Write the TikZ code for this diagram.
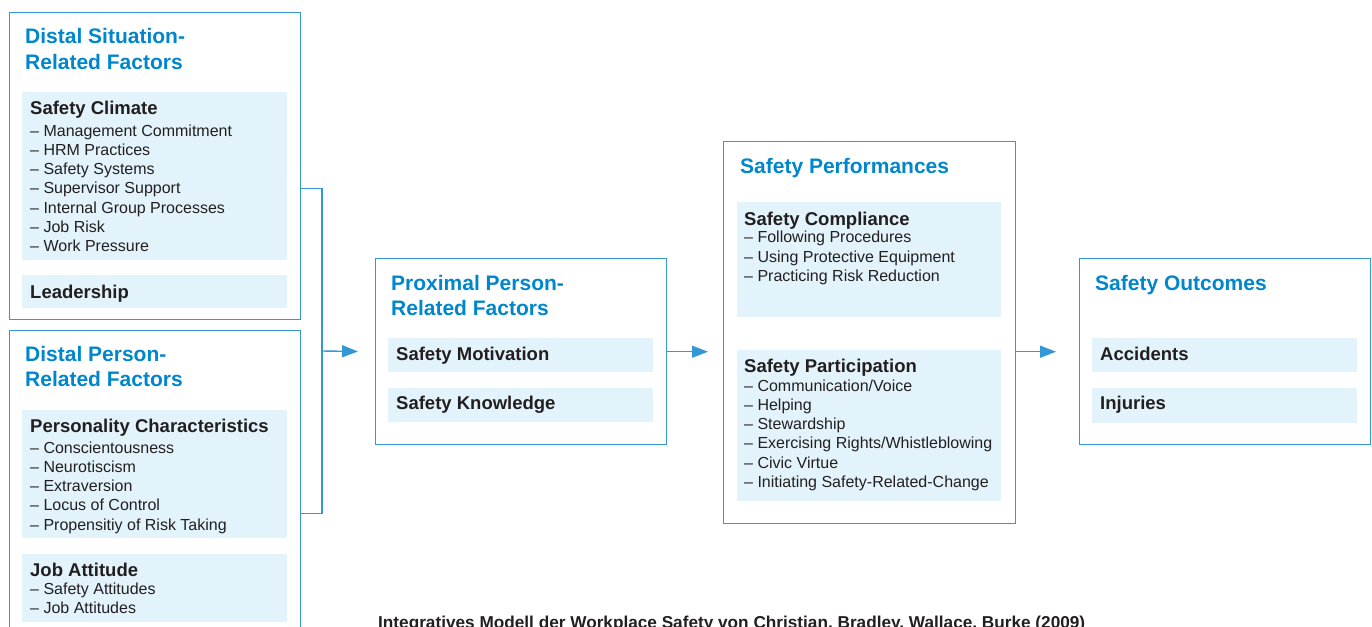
\documentclass[tikz,border=0pt]{standalone}
\usepackage{fontspec}
\setmainfont{Liberation Sans}
\usetikzlibrary{arrows.meta, positioning, calc}
\definecolor{frameblue}{RGB}{52,152,214}
\definecolor{titleblue}{RGB}{0,134,204}
\definecolor{paleblue}{RGB}{226,243,251}
\definecolor{inkgray}{RGB}{35,31,32}

% multi-line nodes sit on the baseline of their last line
\tikzset{
  frame/.style={draw=frameblue, line width=1.4pt, anchor=north west, inner sep=0pt, minimum width=291pt},
  panel/.style={fill=paleblue, anchor=north west, inner sep=0pt, minimum width=265pt},
  boxtitle/.style={anchor=base west, inner sep=0pt, align=left, text=titleblue, font=\bfseries\fontsize{21}{25.5}\selectfont},
  subhead/.style={anchor=base west, inner sep=0pt, text=inkgray, font=\bfseries\fontsize{18.5}{22}\selectfont},
  items/.style={anchor=base west, inner sep=0pt, align=left, text=inkgray, font=\fontsize{16}{19.3}\selectfont},
  caption/.style={anchor=base west, inner sep=0pt, text=inkgray, font=\bfseries\fontsize{17.2}{20}\selectfont},
  link/.style={frameblue, line width=1.4pt},
  flow/.style={link, -{Triangle[length=16pt, width=12pt]}}
}

\begin{document}
\begin{tikzpicture}[x=1pt, y=-1pt]
  \useasboundingbox (0,0) rectangle (1372,626);
  \clip (0,0) rectangle (1372,626);

  % Distal situation-related factors
  \node[frame, minimum height=307pt] (sit) at (9,12) {};
  \node[boxtitle] (sit-t) at (25,44+25.5) {Distal Situation-\\Related Factors};
  \node[panel, minimum height=168pt] (clim) at (22,92) {};
  \node[subhead] (clim-h) at (30,114) {Safety Climate};
  \node[items] (clim-l) at (30,136+6*19.3) {– Management Commitment\\– HRM Practices\\– Safety Systems\\– Supervisor Support\\– Internal Group Processes\\– Job Risk\\– Work Pressure};
  \node[panel, minimum height=33pt] (lead) at (22,275) {};
  \node[subhead] (lead-h) at (30,298) {Leadership};

  % Distal person-related factors (runs off the bottom)
  \node[frame, minimum height=320pt] (per) at (9,330) {};
  \node[boxtitle] (per-t) at (25,361+25.5) {Distal Person-\\Related Factors};
  \node[panel, minimum height=128pt] (pers) at (22,410) {};
  \node[subhead] (pers-h) at (30,432) {Personality Characteristics};
  \node[items] (pers-l) at (30,453+4*19.3) {– Conscientousness\\– Neurotiscism\\– Extraversion\\– Locus of Control\\– Propensitiy of Risk Taking};
  \node[panel, minimum height=68pt] (att) at (22,554) {};
  \node[subhead] (att-h) at (30,576) {Job Attitude};
  \node[items] (att-l) at (30,594+19.3) {– Safety Attitudes\\– Job Attitudes};

  % Proximal person-related factors
  \node[frame, minimum height=186pt] (prox) at (375,258) {};
  \node[boxtitle] (prox-t) at (391,290+25.5) {Proximal Person-\\Related Factors};
  \node[panel, minimum height=34pt] (mot) at (388,338) {};
  \node[subhead] (mot-h) at (396,360) {Safety Motivation};
  \node[panel, minimum height=34pt] (know) at (388,388) {};
  \node[subhead] (know-h) at (396,409) {Safety Knowledge};

  % Safety performances
  \node[frame, minimum width=292pt, minimum height=382pt] (perf) at (723,141) {};
  \node[boxtitle] (perf-t) at (740,173) {Safety Performances};
  \node[panel, minimum width=264pt, minimum height=115pt] (comp) at (737,202) {};
  \node[subhead] (comp-h) at (744,225) {Safety Compliance};
  \node[items] (comp-l) at (744,243+2*19.2) {– Following Procedures\\– Using Protective Equipment\\– Practicing Risk Reduction};
  \node[panel, minimum width=264pt, minimum height=151pt] (part) at (737,350) {};
  \node[subhead] (part-h) at (744,372) {Safety Participation};
  \node[items] (part-l) at (744,391+5*19.3) {– Communication/Voice\\– Helping\\– Stewardship\\– Exercising Rights/Whistleblowing\\– Civic Virtue\\– Initiating Safety-Related-Change};

  % Safety outcomes
  \node[frame, minimum height=186pt] (out) at (1079,258) {};
  \node[boxtitle] (out-t) at (1095,290) {Safety Outcomes};
  \node[panel, minimum height=34pt] (acc) at (1092,338) {};
  \node[subhead] (acc-h) at (1100,360) {Accidents};
  \node[panel, minimum height=35pt] (inj) at (1092,388) {};
  \node[subhead] (inj-h) at (1100,409) {Injuries};

  % Connectors
  \coordinate (jn) at (322,351);
  \draw[link] ([yshift=-22.5pt]sit.east) -| (jn) |- ([yshift=-23pt]per.east);
  \draw[flow, shorten >=17pt] (jn) -- (prox.west);
  \draw[flow, shorten >=15pt] (prox.east) -- (prox.east -| perf.west);
  \draw[flow, shorten >=23pt] (perf.east |- out.west) -- (out.west);

  \node[caption] (cap) at (378,628) {Integratives Modell der Workplace Safety von Christian, Bradley, Wallace, Burke (2009)};
\end{tikzpicture}
\end{document}
